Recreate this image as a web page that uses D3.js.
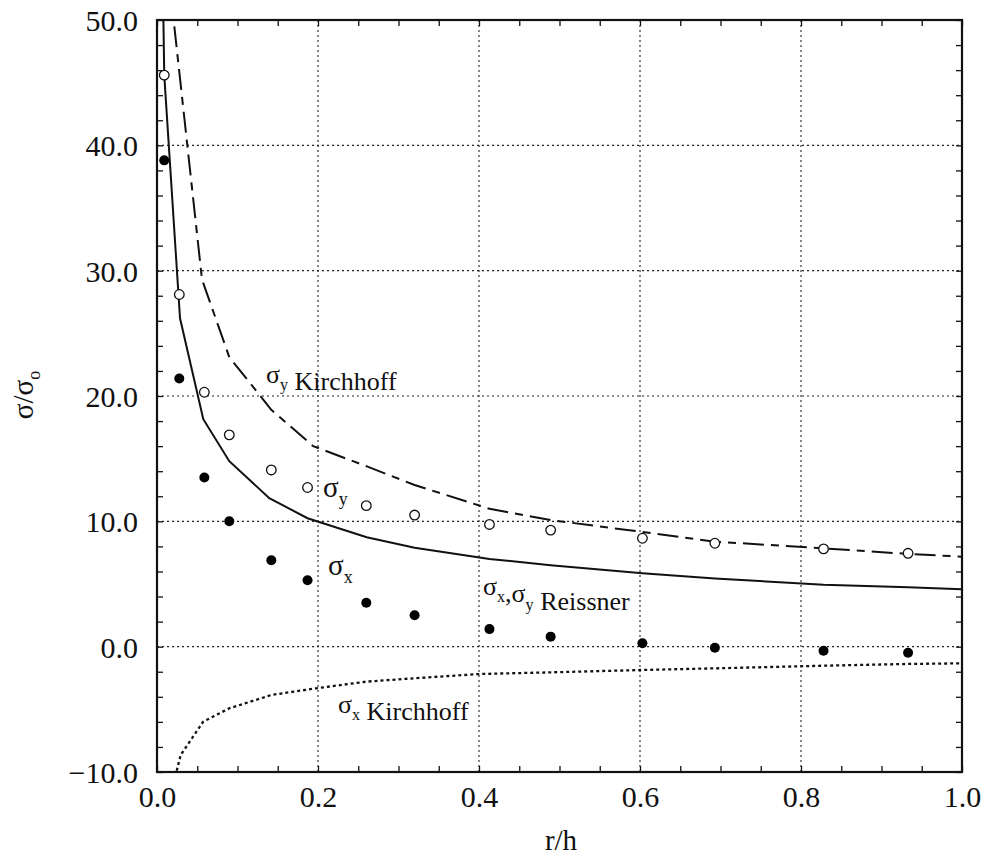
<!DOCTYPE html>
<html>
<head>
<meta charset="utf-8">
<script src="https://cdn.jsdelivr.net/npm/d3@7"></script>
<style>
  html, body { margin: 0; padding: 0; background: #fff; }
  svg text { font-family: "Liberation Serif", "DejaVu Serif", serif; fill: #111; }
</style>
</head>
<body>
<svg id="chart" width="987" height="857"></svg>
<script>
// Finite-element results (symbols)
const femX  = [0.009, 0.0277, 0.0588, 0.0898, 0.142, 0.187, 0.260, 0.320, 0.413, 0.489, 0.603, 0.693, 0.828, 0.933];
const femSy = [45.6, 28.1, 20.3, 16.9, 14.1, 12.7, 11.25, 10.5, 9.75, 9.3, 8.65, 8.25, 7.8, 7.45];
const femSx = [38.8, 21.4, 13.5, 10.0, 6.9, 5.3, 3.5, 2.5, 1.4, 0.8, 0.27, -0.08, -0.32, -0.48];

// Reissner plate theory (sigma_x = sigma_y)
const reissnerX = [0.0075, 0.009, 0.0286, 0.0575, 0.0898, 0.1395, 0.187, 0.2605, 0.320, 0.413, 0.489, 0.603, 0.693, 0.828, 0.933, 1.0];
const reissnerS = [52, 45.6, 26.2, 18.15, 14.8, 11.85, 10.25, 8.73, 7.9, 7.0, 6.5, 5.86, 5.43, 4.95, 4.74, 4.58];

// Kirchhoff plate theory, sigma_y
const kirchYX = [0.0215, 0.0559, 0.0898, 0.142, 0.194, 0.260, 0.320, 0.413, 0.489, 0.603, 0.693, 0.828, 0.933, 1.0];
const kirchYS = [49.5, 29.3, 23.1, 18.9, 16.0, 14.4, 12.9, 11.0, 10.1, 9.15, 8.38, 7.85, 7.4, 7.18];

// Kirchhoff plate theory, sigma_x
const kirchXX = [0.0245, 0.0294, 0.0575, 0.0898, 0.1424, 0.198, 0.260, 0.320, 0.401, 0.489, 0.603, 0.693, 0.828, 0.933, 1.0];
const kirchXS = [-9.9, -8.64, -5.98, -4.92, -3.85, -3.32, -2.79, -2.52, -2.18, -2.05, -1.86, -1.73, -1.52, -1.38, -1.33];

// Axis ticks
const xMajor = [0, 0.2, 0.4, 0.6, 0.8, 1.0];
const yMajor = [-10, 0, 10, 20, 30, 40, 50];
const xMinor = d3.range(0, 1.0001, 0.05);
const yMinor = d3.range(-10, 50.001, 2);

const svg = d3.select("#chart");
const L = 157, R = 962, T = 20, B = 772;
const x = d3.scaleLinear().domain([0, 1]).range([L, R]);
const y = d3.scaleLinear().domain([-10, 50]).range([B, T]);

svg.append("defs").append("clipPath").attr("id", "plotclip")
  .append("rect").attr("x", L).attr("y", T).attr("width", R - L).attr("height", B - T);

// dotted grid
const grid = svg.append("g").attr("stroke", "#222").attr("stroke-width", 1.1).attr("stroke-dasharray", "2,3");
grid.selectAll("line.vx").data(xMajor.slice(1, -1)).join("line")
  .attr("x1", d => x(d)).attr("x2", d => x(d)).attr("y1", T).attr("y2", B);
grid.selectAll("line.hy").data(yMajor.slice(1, -1)).join("line")
  .attr("x1", L).attr("x2", R).attr("y1", d => y(d)).attr("y2", d => y(d));

// inward ticks on all four sides
const tickLen = 6;
const noLabel = () => "";
function styleAxis(g) {
  g.select(".domain").remove();
  g.selectAll(".tick line").attr("stroke", "#111").attr("stroke-width", 1.3);
}
svg.append("g").attr("transform", `translate(0,${B})`)
  .call(d3.axisBottom(x).tickValues(xMinor).tickSize(-tickLen).tickFormat(noLabel)).call(styleAxis);
svg.append("g").attr("transform", `translate(0,${T})`)
  .call(d3.axisTop(x).tickValues(xMinor).tickSize(-tickLen).tickFormat(noLabel)).call(styleAxis);
svg.append("g").attr("transform", `translate(${L},0)`)
  .call(d3.axisLeft(y).tickValues(yMinor).tickSize(-tickLen).tickFormat(noLabel)).call(styleAxis);
svg.append("g").attr("transform", `translate(${R},0)`)
  .call(d3.axisRight(y).tickValues(yMinor).tickSize(-tickLen).tickFormat(noLabel)).call(styleAxis);

// tick labels
const fmt = d3.format(".1f");
const xl = svg.append("g").attr("transform", `translate(0,${B})`)
  .call(d3.axisBottom(x).tickValues(xMajor).tickSize(0).tickFormat(fmt));
xl.select(".domain").remove();
xl.selectAll("text").attr("font-size", 30).attr("font-family", "Liberation Serif")
  .attr("fill", "#111").attr("dy", null).attr("y", 35);

const yl = svg.append("g").attr("transform", `translate(${L},0)`)
  .call(d3.axisLeft(y).tickValues(yMajor).tickSize(0).tickFormat(fmt));
yl.select(".domain").remove();
yl.selectAll("text").attr("font-size", 30).attr("font-family", "Liberation Serif")
  .attr("fill", "#111").attr("x", -19).attr("dy", "0.35em");

// curves
const plot = svg.append("g").attr("clip-path", "url(#plotclip)");
const line = d3.line().x(d => x(d[0])).y(d => y(d[1]));

plot.append("path").datum(d3.zip(kirchXX, kirchXS)).attr("d", line)
  .attr("fill", "none").attr("stroke", "#111").attr("stroke-width", 2.3).attr("stroke-dasharray", "3,3");
plot.append("path").datum(d3.zip(kirchYX, kirchYS)).attr("d", line)
  .attr("fill", "none").attr("stroke", "#111").attr("stroke-width", 2).attr("stroke-dasharray", "21,7,8,7");
plot.append("path").datum(d3.zip(reissnerX, reissnerS)).attr("d", line)
  .attr("fill", "none").attr("stroke", "#111").attr("stroke-width", 2);

// symbols
plot.selectAll("circle.sx").data(d3.zip(femX, femSx)).join("circle")
  .attr("cx", d => x(d[0])).attr("cy", d => y(d[1])).attr("r", 5)
  .attr("fill", "#000");
plot.selectAll("circle.sy").data(d3.zip(femX, femSy)).join("circle")
  .attr("cx", d => x(d[0])).attr("cy", d => y(d[1])).attr("r", 4.8)
  .attr("fill", "#fff").attr("stroke", "#111").attr("stroke-width", 1.3);

// frame
svg.append("rect").attr("x", L).attr("y", T).attr("width", R - L).attr("height", B - T)
  .attr("fill", "none").attr("stroke", "#111").attr("stroke-width", 2.2);

// curve labels with subscripts
function label(px, py, size, parts) {
  const t = svg.append("text").attr("x", px).attr("y", py).attr("font-size", size);
  parts.forEach(p => {
    if (p.sub) {
      t.append("tspan").attr("font-size", size * 0.62).attr("dy", size * 0.28).text(p.sub);
      t.append("tspan").attr("dy", -size * 0.28).text("");
    } else {
      t.append("tspan").text(p.t);
    }
  });
  return t;
}
label(266, 383, 26, [{t: "σ"}, {sub: "y"}, {t: " Kirchhoff"}]);
label(323, 497, 29, [{t: "σ"}, {sub: "y"}]);
label(328, 575, 29, [{t: "σ"}, {sub: "x"}]);
label(483, 595, 26, [{t: "σ"}, {sub: "x"}, {t: ",σ"}, {sub: "y"}, {t: " Reissner"}]);
label(338, 713, 26, [{t: "σ"}, {sub: "x"}, {t: " Kirchhoff"}]);

// axis titles
svg.append("text").attr("x", 561).attr("y", 850).attr("text-anchor", "middle")
  .attr("font-size", 29).text("r/h");
const yt = svg.append("text").attr("transform", "translate(33,395) rotate(-90)")
  .attr("text-anchor", "middle").attr("font-size", 29);
yt.append("tspan").text("σ/σ");
yt.append("tspan").attr("font-size", 18).attr("dy", 7).text("o");
</script>
</body>
</html>
